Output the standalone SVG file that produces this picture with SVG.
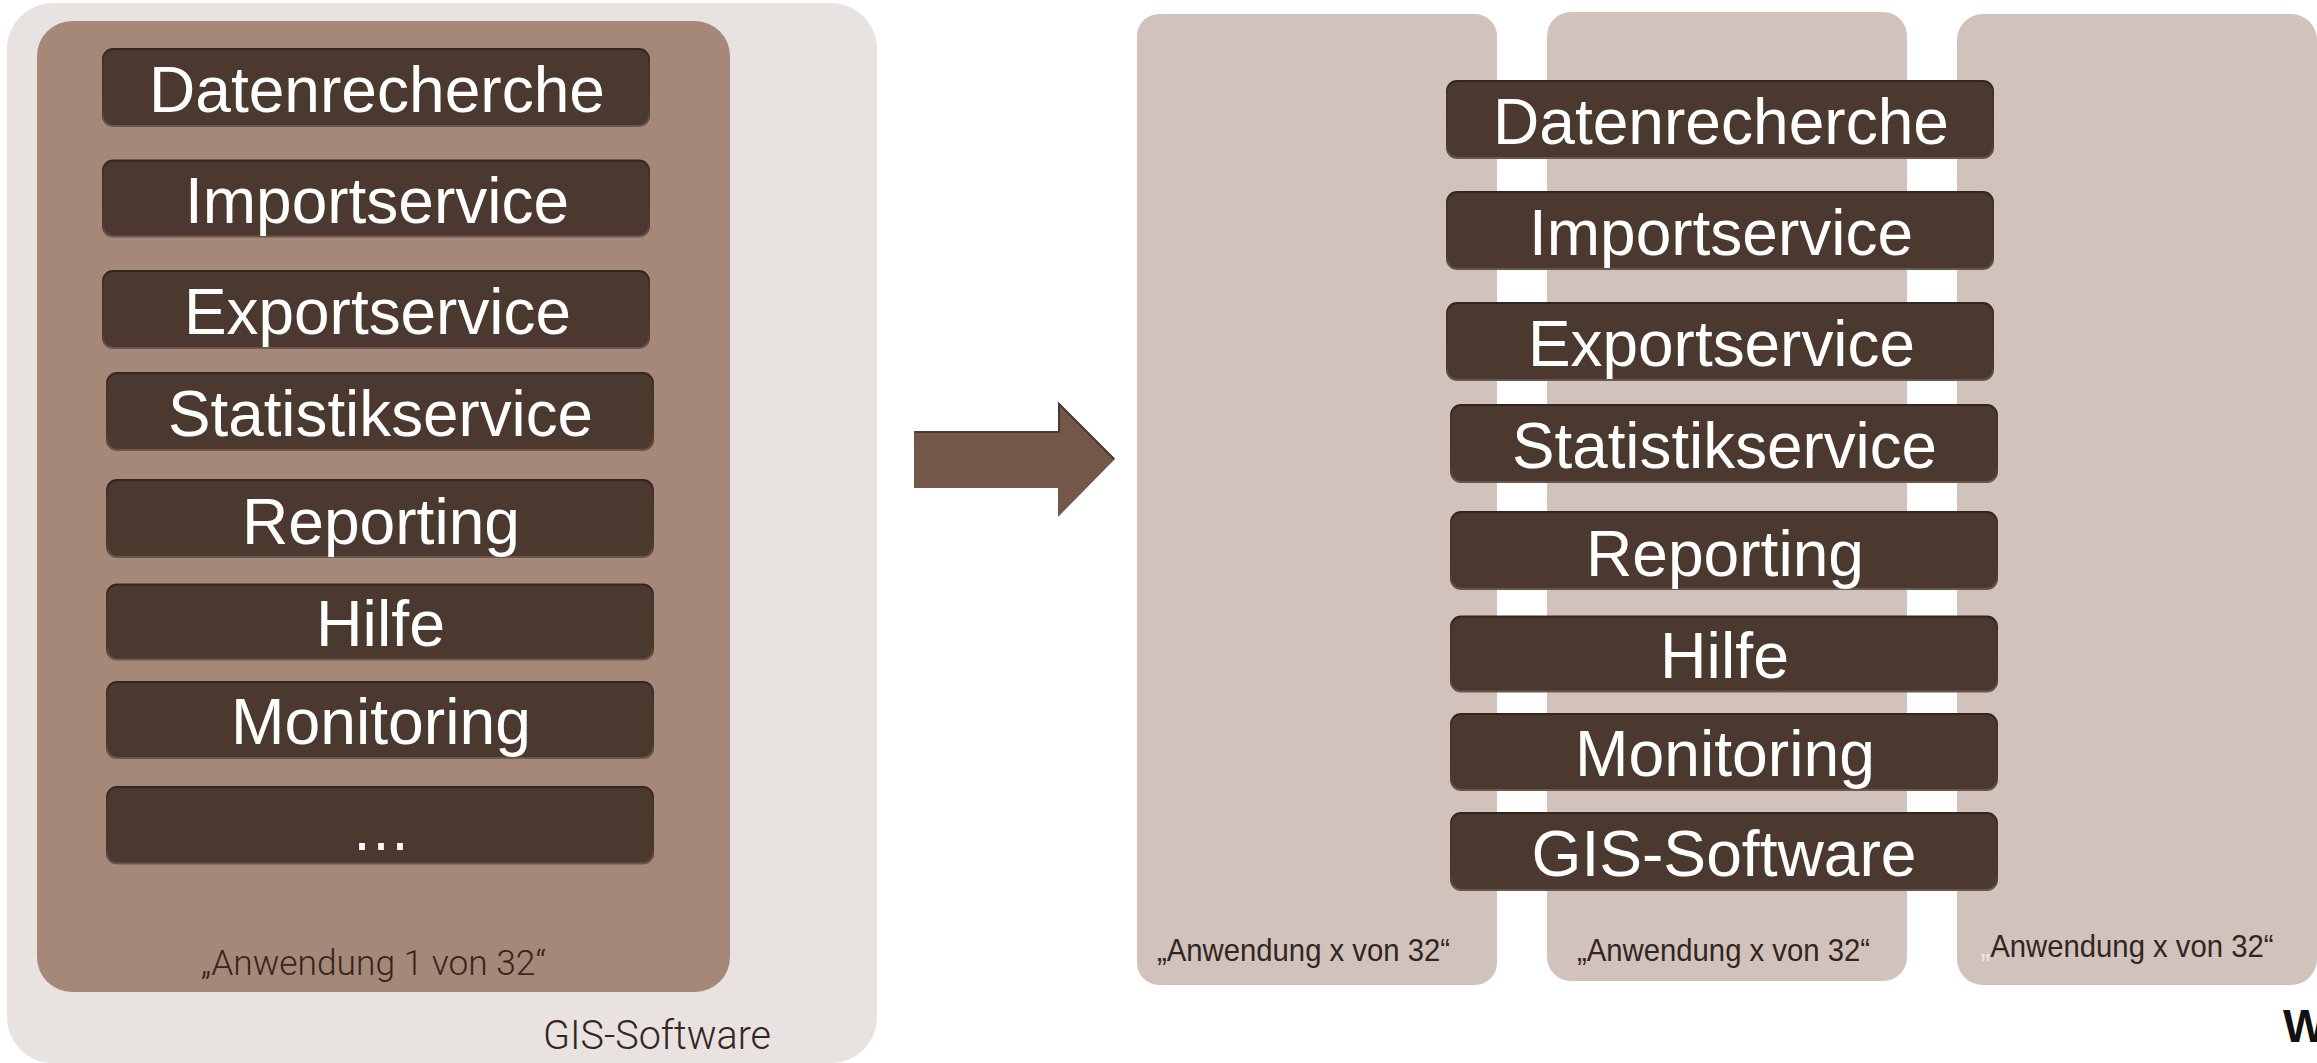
<svg xmlns="http://www.w3.org/2000/svg" width="2317" height="1063" viewBox="0 0 2317 1063">
<style>
.b{fill:#4b382f;stroke:url(#edge);stroke-width:2}
.t{font-family:"Liberation Sans",Arial,sans-serif;font-size:65px;fill:#fff;text-anchor:start}
.l{font-family:"Liberation Sans",Arial,sans-serif;font-size:32px;fill:#33251f}
.s{font-family:"Roboto","Liberation Sans",sans-serif;font-weight:300;fill:#35261f}
.p{fill:#d1c2bb}
</style>
<defs>
<linearGradient id="edge" x1="0" y1="0" x2="0" y2="1"><stop offset="0" stop-color="#33251e"/><stop offset=".2" stop-color="#46342b"/><stop offset=".8" stop-color="#4b382f"/><stop offset="1" stop-color="#6a574d"/></linearGradient>
</defs>
<rect width="2317" height="1063" fill="#fff"/>
<g id="gis-outer"><rect x="7" y="3" width="870" height="1060" rx="46" fill="#e8e3e1"/>
<text class="s" x="543" y="1049" font-size="41" textLength="228" lengthAdjust="spacingAndGlyphs">GIS-Software</text></g>
<g id="anwendung-1"><rect x="37" y="21" width="693" height="971" rx="35" fill="#a58878"/>
<text class="s" x="201" y="975" font-size="35" textLength="345" lengthAdjust="spacingAndGlyphs">„Anwendung 1 von 32“</text></g>
<g id="l-datenrecherche"><rect class="b" x="103" y="49" width="546" height="77" rx="10"/><text class="t" x="149" y="111.5" textLength="456" lengthAdjust="spacingAndGlyphs">Datenrecherche</text></g>
<g id="l-importservice"><rect class="b" x="103" y="160.5" width="546" height="76" rx="10"/><text class="t" x="185" y="222.5" textLength="384" lengthAdjust="spacingAndGlyphs">Importservice</text></g>
<g id="l-exportservice"><rect class="b" x="103" y="271" width="546" height="77" rx="10"/><text class="t" x="184" y="334" textLength="387" lengthAdjust="spacingAndGlyphs">Exportservice</text></g>
<g id="l-statistikservice"><rect class="b" x="107" y="373" width="546" height="77" rx="10"/><text class="t" x="168" y="436" textLength="425" lengthAdjust="spacingAndGlyphs">Statistikservice</text></g>
<g id="l-reporting"><rect class="b" x="107" y="480" width="546" height="77" rx="10"/><text class="t" x="242" y="544" textLength="278" lengthAdjust="spacingAndGlyphs">Reporting</text></g>
<g id="l-hilfe"><rect class="b" x="107" y="584.5" width="546" height="75" rx="10"/><text class="t" x="316" y="646" textLength="129" lengthAdjust="spacingAndGlyphs">Hilfe</text></g>
<g id="l-monitoring"><rect class="b" x="107" y="682" width="546" height="76" rx="10"/><text class="t" x="231" y="744" textLength="300" lengthAdjust="spacingAndGlyphs">Monitoring</text></g>
<g id="l-more"><rect class="b" x="107" y="787" width="546" height="76.500" rx="10"/><text class="t" x="351" y="850" textLength="60" lengthAdjust="spacingAndGlyphs">…</text></g>
<g id="connectors"><path d="M914 431H1058V402L1115 459L1058 517V488H914Z" fill="#735849"/>
<path d="M915 432H1059V404L1114 459" fill="none" stroke="#4b382f" stroke-width="2"/></g>
<g id="panel-1"><rect class="p" x="1137" y="14" width="360" height="971" rx="22"/><text class="l" x="1157" y="961" textLength="293" lengthAdjust="spacingAndGlyphs">„Anwendung x von 32“</text></g>
<g id="panel-2"><rect class="p" x="1547" y="12" width="360" height="969" rx="24"/><text class="l" x="1577" y="961" textLength="293" lengthAdjust="spacingAndGlyphs">„Anwendung x von 32“</text></g>
<g id="panel-3"><rect class="p" x="1957" y="14" width="360" height="971" rx="26"/><text class="l" x="1980.500" y="957" textLength="293" lengthAdjust="spacingAndGlyphs"><tspan fill="#f0eae6">„</tspan>Anwendung x von 32“</text></g>
<g id="r-datenrecherche"><rect class="b" x="1447" y="81" width="546" height="77" rx="10"/><text class="t" x="1493" y="144" textLength="456" lengthAdjust="spacingAndGlyphs">Datenrecherche</text></g>
<g id="r-importservice"><rect class="b" x="1447" y="192" width="546" height="77" rx="10"/><text class="t" x="1529" y="255" textLength="384" lengthAdjust="spacingAndGlyphs">Importservice</text></g>
<g id="r-exportservice"><rect class="b" x="1447" y="303" width="546" height="77" rx="10"/><text class="t" x="1528" y="366" textLength="387" lengthAdjust="spacingAndGlyphs">Exportservice</text></g>
<g id="r-statistikservice"><rect class="b" x="1451" y="405" width="546" height="77" rx="10"/><text class="t" x="1512" y="468" textLength="425" lengthAdjust="spacingAndGlyphs">Statistikservice</text></g>
<g id="r-reporting"><rect class="b" x="1451" y="512" width="546" height="77" rx="10"/><text class="t" x="1586" y="576" textLength="278" lengthAdjust="spacingAndGlyphs">Reporting</text></g>
<g id="r-hilfe"><rect class="b" x="1451" y="616.5" width="546" height="75" rx="10"/><text class="t" x="1660" y="678" textLength="129" lengthAdjust="spacingAndGlyphs">Hilfe</text></g>
<g id="r-monitoring"><rect class="b" x="1451" y="714" width="546" height="76" rx="10"/><text class="t" x="1575" y="776" textLength="300" lengthAdjust="spacingAndGlyphs">Monitoring</text></g>
<g id="r-gis"><rect class="b" x="1451" y="813" width="546" height="77" rx="10"/><text class="t" x="1531.500" y="876" textLength="385" lengthAdjust="spacingAndGlyphs">GIS-Software</text></g>
<text x="2283" y="1042" font-family="Liberation Sans,sans-serif" font-weight="700" font-size="46" fill="#111">W</text>
</svg>
